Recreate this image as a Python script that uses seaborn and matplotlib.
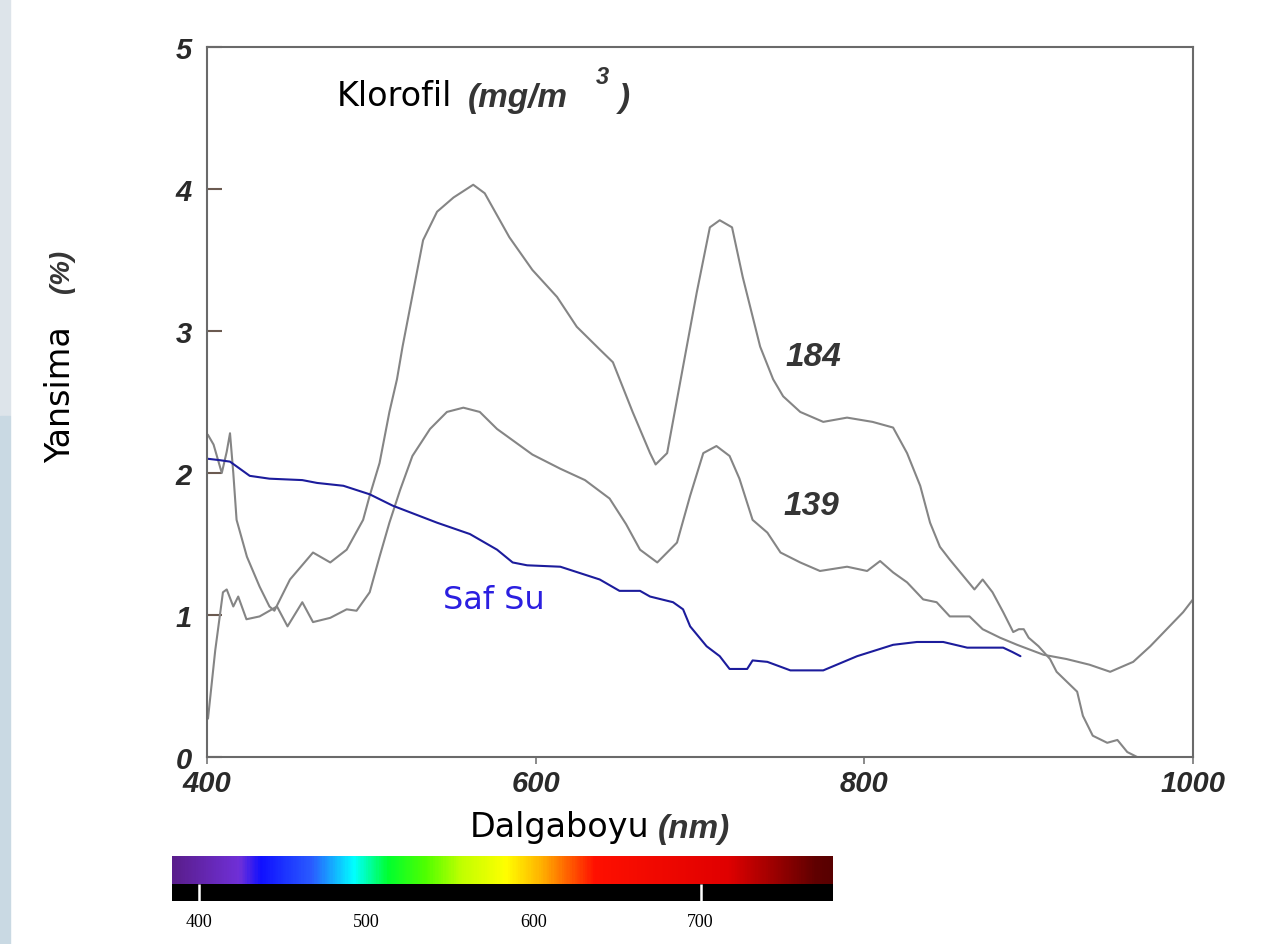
import numpy as np
import pandas as pd
import matplotlib
matplotlib.use("Agg")
import matplotlib.pyplot as plt
from matplotlib.colors import LinearSegmentedColormap
from matplotlib.patches import Rectangle
import seaborn as sns

# ---------------- data ----------------
chl184_nm = [400.5, 404, 409, 412, 414, 416, 418, 424.3, 432, 438, 441, 450.5, 464.5, 475,
             485, 495, 499, 505, 511, 515.6, 519, 531.5, 540, 550, 562, 569, 584, 598, 613,
             625, 639, 647, 659, 669.6, 673, 680, 689.7, 698, 706, 712, 719.5, 726, 736.6,
             744.5, 750.6, 761, 775, 789.5, 805, 817.5, 826, 834, 840, 846, 852, 867, 872,
             878, 884.5, 890.6, 894, 897, 900, 906, 913, 917, 929.5, 933, 939, 947.8, 954,
             960, 966]
chl184_val = [2.27, 2.2, 2.0, 2.15, 2.28, 2.0, 1.67, 1.41, 1.2, 1.06, 1.03, 1.25, 1.44, 1.37,
              1.46, 1.67, 1.84, 2.07, 2.43, 2.66, 2.89, 3.64, 3.84, 3.94, 4.03, 3.97, 3.66,
              3.43, 3.24, 3.03, 2.87, 2.78, 2.43, 2.14, 2.06, 2.14, 2.75, 3.27, 3.73, 3.78,
              3.73, 3.38, 2.89, 2.66, 2.54, 2.43, 2.36, 2.39, 2.36, 2.32, 2.14, 1.91, 1.65,
              1.48, 1.39, 1.18, 1.25, 1.16, 1.02, 0.88, 0.9, 0.9, 0.84, 0.78, 0.69, 0.6, 0.46,
              0.29, 0.15, 0.1, 0.12, 0.035, 0.0]

chl139_nm = [400.6, 405, 409.7, 412, 416, 419, 424, 432, 442.6, 449, 458, 464.5, 475, 485,
             491, 499, 505, 511, 517.5, 525, 535.7, 546, 556, 566, 576.5, 598, 615, 630, 645,
             655, 663.5, 674, 686, 694, 702, 710, 718, 724, 732, 741, 749, 761, 773, 789.5,
             801.7, 809.6, 817.5, 826, 835.8, 844, 852, 864, 872, 882.6, 893, 909, 923, 937,
             949.6, 963.6, 974, 984, 994, 1000]
chl139_val = [0.27, 0.75, 1.16, 1.18, 1.06, 1.13, 0.97, 0.99, 1.06, 0.92, 1.09, 0.95, 0.98,
              1.04, 1.03, 1.16, 1.41, 1.65, 1.88, 2.12, 2.31, 2.43, 2.46, 2.43, 2.31, 2.13,
              2.03, 1.95, 1.82, 1.64, 1.46, 1.37, 1.51, 1.84, 2.14, 2.19, 2.12, 1.96, 1.67,
              1.58, 1.44, 1.37, 1.31, 1.34, 1.31, 1.38, 1.30, 1.23, 1.11, 1.09, 0.99, 0.99,
              0.9, 0.84, 0.79, 0.72, 0.69, 0.65, 0.60, 0.67, 0.78, 0.9, 1.02, 1.11]

water_nm = [400.6, 408, 414, 420, 426, 438, 458, 467, 483, 499, 513, 540, 560, 576.5, 586,
            594.8, 615, 639, 651, 663.5, 669.6, 683.6, 689.7, 694, 704, 712, 718, 728.7, 732,
            741, 755, 775, 795.6, 817.5, 832, 848, 862.6, 884.5, 890, 895]
water_val = [2.10, 2.09, 2.08, 2.03, 1.98, 1.96, 1.95, 1.93, 1.91, 1.85, 1.77, 1.65, 1.57,
             1.46, 1.37, 1.35, 1.34, 1.25, 1.17, 1.17, 1.13, 1.09, 1.04, 0.92, 0.78, 0.71,
             0.62, 0.62, 0.68, 0.67, 0.61, 0.61, 0.71, 0.79, 0.81, 0.81, 0.77, 0.77, 0.74, 0.71]

x_ticks = [400, 600, 800, 1000]
y_ticks = [0, 1, 2, 3, 4, 5]
spectrum_ticks = [400, 500, 600, 700]
series_labels = ["184", "139", "Saf Su"]

# ---------------- figure ----------------
sns.set_style("white")
plt.rcParams["font.family"] = ["DejaVu Sans"]

W, H = 1264, 945
fig = plt.figure(figsize=(W / 100, H / 100), dpi=100)
fig.patch.set_facecolor("white")

# light strip on the far left edge
fig.patches.append(Rectangle((0, 1 - 417 / H), 10 / W, 417 / H, transform=fig.transFigure,
                             color="#dde4ea", zorder=0))
fig.patches.append(Rectangle((0, 0), 10 / W, 1 - 417 / H, transform=fig.transFigure,
                             color="#c9d9e3", zorder=0))

ax = fig.add_axes([207 / W, 1 - 758 / H, 986 / W, 710 / H])

df = pd.concat([
    pd.DataFrame({"nm": chl184_nm, "val": chl184_val, "series": series_labels[0]}),
    pd.DataFrame({"nm": chl139_nm, "val": chl139_val, "series": series_labels[1]}),
    pd.DataFrame({"nm": water_nm, "val": water_val, "series": series_labels[2]}),
], ignore_index=True)

palette = {"184": "#858585", "139": "#858585", "Saf Su": "#1c1c9c"}
sns.lineplot(data=df, x="nm", y="val", hue="series", palette=palette, sort=False,
             estimator=None, legend=False, linewidth=1.5, ax=ax)

ax.set_xlim(400, 1000)
ax.set_ylim(0, 5)
ax.set_xticks(x_ticks)
ax.set_yticks(y_ticks)
ax.set_xticklabels([str(v) for v in x_ticks])
ax.set_yticklabels([str(v) for v in y_ticks])
ax.set_xlabel("")
ax.set_ylabel("")

for sp in ax.spines.values():
    sp.set_color("#6a6a6a")
    sp.set_linewidth(1.5)

ax.tick_params(axis="y", direction="in", length=11, width=1.5, color="#6b5a50", pad=11,
               left=True)
ax.tick_params(axis="x", direction="out", length=5, width=1.2, color="#777777", pad=4,
               bottom=True)
for lbl in ax.get_xticklabels() + ax.get_yticklabels():
    lbl.set_fontfamily("Liberation Sans")
    lbl.set_fontweight("bold")
    lbl.set_fontstyle("italic")
    lbl.set_fontsize(21)
    lbl.set_color("#2a2a2a")

bi = dict(family="Liberation Sans", fontweight="bold", fontstyle="italic", color="#353535")

# in-plot labels
ax.text(769, 2.82, "184", fontsize=24, ha="center", va="center", **bi)
ax.text(768, 1.77, "139", fontsize=24, ha="center", va="center", **bi)
ax.text(543.6, 1.11, "Saf Su", fontsize=23, ha="left", va="center", color="#2b1fe0",
        family="DejaVu Sans")

def fx(px):
    return px / W

def fy(py):
    return 1 - py / H

fig.text(fx(337), fy(97), "Klorofil", fontsize=24, ha="left", va="center", color="black")
fig.text(fx(468), fy(99), "(mg/m", fontsize=24, ha="left", va="center", **bi)
fig.text(fx(596), fy(78), "3", fontsize=17, ha="left", va="center", **bi)
fig.text(fx(619), fy(99), ")", fontsize=24, ha="left", va="center", **bi)

fig.text(fx(61), fy(395), "Yansima", fontsize=24, rotation=90, ha="center", va="center",
         color="black")
fig.text(fx(62), fy(271), "(%)", fontsize=20, rotation=90, ha="center", va="center", **bi)

fig.text(fx(470), fy(828), "Dalgaboyu", fontsize=24, ha="left", va="center", color="black")
fig.text(fx(658), fy(830), "(nm)", fontsize=24, ha="left", va="center", **bi)

# ---------------- spectrum bar ----------------
spec_cmap = LinearSegmentedColormap.from_list("spec", [
    (0.0, "#5a1e8c"), (0.10, "#7030d8"), (0.133, "#1010ff"), (0.21, "#2a5cff"),
    (0.274, "#00ffff"), (0.326, "#00ff30"), (0.384, "#50ff00"), (0.437, "#c0ff00"),
    (0.505, "#ffff00"), (0.56, "#ffb000"), (0.60, "#ff6000"), (0.64, "#ff1000"),
    (0.843, "#e00000"), (0.976, "#600000"), (1.0, "#580000")])

s_lo, s_hi = 383.9, 779.2
ax2 = fig.add_axes([172 / W, 1 - 902 / H, 661 / W, 45 / H])
ax2.set_facecolor("black")
gradient = np.linspace(0, 1, 600)[None, :]
ax2.imshow(gradient, aspect="auto", cmap=spec_cmap, extent=(s_lo, s_hi, 0.38, 1.0),
           interpolation="bilinear")
ax2.vlines([spectrum_ticks[0], spectrum_ticks[-1]], 0, 0.38, colors="white", linewidth=1.8)
ax2.set_xlim(s_lo, s_hi)
ax2.set_ylim(0, 1)
ax2.set_yticks([])
ax2.set_xticks(spectrum_ticks)
ax2.set_xticklabels([str(v) for v in spectrum_ticks], family="Liberation Serif",
                    fontsize=13, color="black")
ax2.tick_params(axis="x", length=0, pad=9)
for sp in ax2.spines.values():
    sp.set_visible(False)

fig.savefig("out.png", dpi=100, facecolor="white")
